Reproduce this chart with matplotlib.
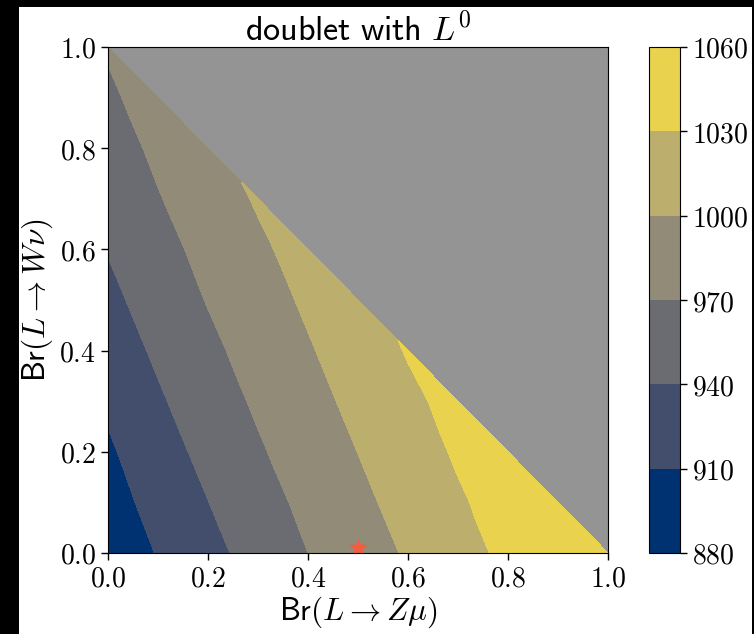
import numpy as np
import matplotlib
matplotlib.use("Agg")
import matplotlib.pyplot as plt
import matplotlib.tri as mtri
from matplotlib.patches import Rectangle
from matplotlib.ticker import FuncFormatter

plt.rcParams['mathtext.fontset'] = 'cm'

# ---- data ----
grid_step = 0.1
# rows: y = 0.0, 0.1, ..., 1.0 ; columns: x = 0.0, 0.1, ... while x + y <= 1
z_rows = [
    [891.5, 911.5, 931.5, 951.0, 970.0, 986.5, 1003.0, 1020.0, 1036.0, 1048.0, 1057.0],
    [898.5, 919.8, 939.6, 958.9, 976.9, 993.4, 1010.1, 1026.7, 1041.0, 1051.8],
    [906.0, 928.2, 947.8, 966.8, 983.8, 1000.3, 1017.2, 1033.3, 1046.0],
    [914.5, 936.4, 955.8, 974.1, 990.6, 1007.3, 1024.0, 1039.0],
    [924.8, 944.5, 963.7, 981.0, 997.5, 1014.3, 1032.0],
    [933.1, 952.6, 971.4, 987.9, 1004.4, 1021.8],
    [941.3, 960.5, 978.3, 994.8, 1011.5],
    [949.4, 968.4, 985.1, 1003.0],
    [957.3, 975.5, 994.0],
    [965.3, 982.4],
    [972.8],
]
levels = [880, 910, 940, 970, 1000, 1030, 1060]
axis_ticks = [0.0, 0.2, 0.4, 0.6, 0.8, 1.0]
star_point = (0.5, 0.01)
title = r"$\mathsf{doublet\ with}\ L^0$"
xlabel = r"$\mathsf{Br}(L \rightarrow Z\mu)$"
ylabel = r"$\mathsf{Br}(L \rightarrow W\nu)$"

# ---- build triangulation ----
xs, ys, zs = [], [], []
index = {}
for j, row in enumerate(z_rows):
    for i, v in enumerate(row):
        index[(i, j)] = len(xs)
        xs.append(i * grid_step)
        ys.append(j * grid_step)
        zs.append(v)
n = len(z_rows) - 1
triangles = []
for j in range(n):
    for i in range(n - j):
        triangles.append([index[(i, j)], index[(i + 1, j)], index[(i, j + 1)]])
        if i + j <= n - 2:
            triangles.append([index[(i + 1, j)], index[(i + 1, j + 1)], index[(i, j + 1)]])
tri = mtri.Triangulation(np.array(xs), np.array(ys), np.array(triangles))

# ---- figure ----
fig = plt.figure(figsize=(7.54, 6.34), dpi=100, facecolor='black')
fig.patches.append(Rectangle((19 / 754, 0), (752 - 19) / 754, (634 - 7) / 634,
                             transform=fig.transFigure, facecolor='white',
                             edgecolor='none', zorder=-10))

ax = fig.add_axes([108 / 754, 81 / 634, 500 / 754, 506 / 634])
cax = fig.add_axes([649 / 754, 81 / 634, 31 / 754, 506 / 634])

ax.set_facecolor('#949494')
cs = ax.tricontourf(tri, np.array(zs), levels=levels, cmap='cividis')
ax.plot([star_point[0]], [star_point[1]], marker='*', color='#fa5a3c',
        markersize=12, linestyle='none')
ax.set_xlim(0, 1)
ax.set_ylim(0, 1)

fmt = FuncFormatter(lambda v, p: r"$%.1f$" % v)
ax.set_xticks(axis_ticks)
ax.set_yticks(axis_ticks)
ax.xaxis.set_major_formatter(fmt)
ax.yaxis.set_major_formatter(fmt)
ax.tick_params(labelsize=20, length=5, width=1)
ax.set_title(title, fontsize=24.5, pad=5)
ax.set_xlabel(xlabel, fontsize=22.5, labelpad=1)
ax.set_ylabel(ylabel, fontsize=22.5, labelpad=3)

cb = fig.colorbar(cs, cax=cax)
cb.set_ticks(levels)
cb.ax.yaxis.set_major_formatter(FuncFormatter(lambda v, p: r"$%d$" % v))
cb.ax.tick_params(labelsize=20, length=5, width=1)

fig.savefig('out.png', dpi=100, facecolor=fig.get_facecolor())
